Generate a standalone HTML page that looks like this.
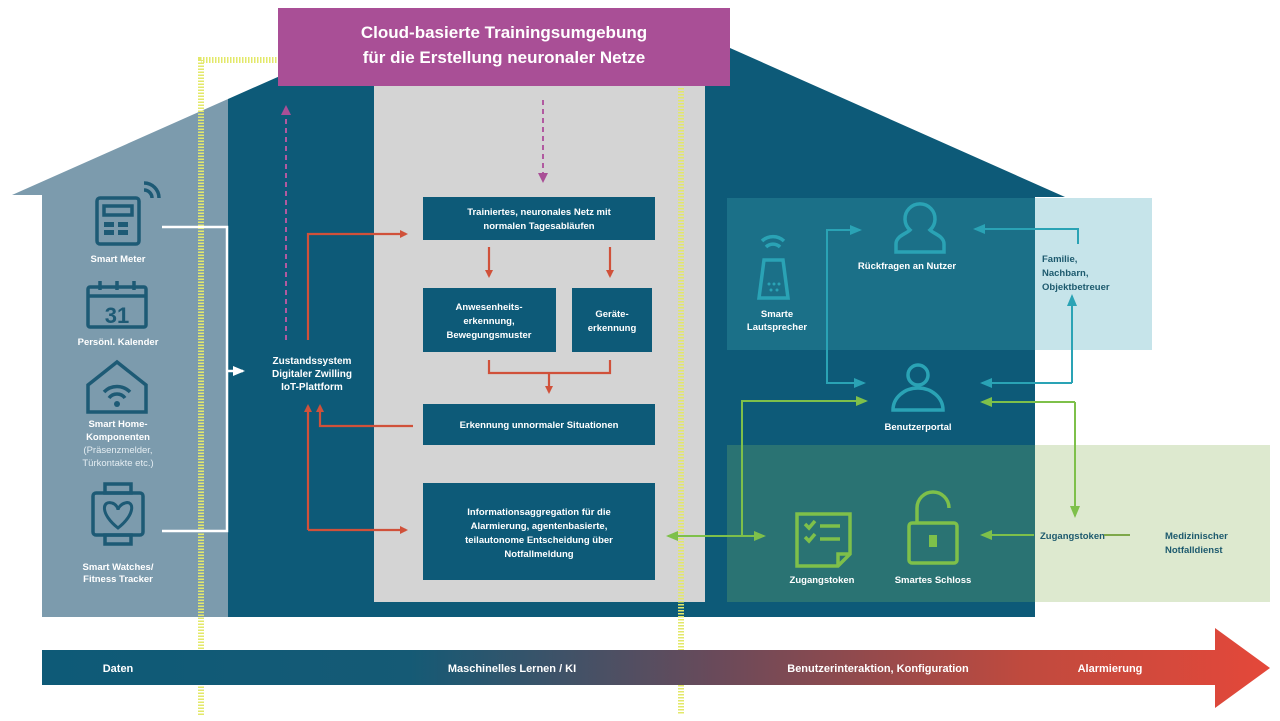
<!DOCTYPE html>
<html><head><meta charset="utf-8"><style>
html,body{margin:0;padding:0;background:#fff;}
svg{display:block;font-family:"Liberation Sans",sans-serif;font-weight:bold;}
</style></head><body>
<svg width="1280" height="721" viewBox="0 0 1280 721" xmlns="http://www.w3.org/2000/svg">
<defs>
<linearGradient id="g" x1="0" x2="1">
<stop offset="0" stop-color="#0e5a77"/><stop offset="0.3" stop-color="#155a75"/>
<stop offset="0.55" stop-color="#6a4a5a"/><stop offset="0.8" stop-color="#c04a3e"/><stop offset="1" stop-color="#e4483a"/>
</linearGradient>
<marker id="ar" markerWidth="8" markerHeight="8" refX="6" refY="4" orient="auto" markerUnits="userSpaceOnUse"><path d="M0,0 L8,4 L0,8z" fill="#d0513a"/></marker>
<marker id="am" markerWidth="10" markerHeight="10" refX="7" refY="5" orient="auto" markerUnits="userSpaceOnUse"><path d="M0,0 L10,5 L0,10z" fill="#a94f96"/></marker>
<marker id="at" markerWidth="12" markerHeight="10" refX="10" refY="5" orient="auto" markerUnits="userSpaceOnUse"><path d="M0,0 L12,5 L0,10z" fill="#2aa3b5"/></marker>
<marker id="ag" markerWidth="12" markerHeight="10" refX="10" refY="5" orient="auto" markerUnits="userSpaceOnUse"><path d="M0,0 L12,5 L0,10z" fill="#7ec04a"/></marker>
<marker id="aw" markerWidth="12" markerHeight="10" refX="10" refY="5" orient="auto" markerUnits="userSpaceOnUse"><path d="M0,0 L12,5 L0,10z" fill="#fff"/></marker>
</defs>
<!-- left light part -->
<polygon points="12,195 228,99 228,617 42,617 42,195" fill="#7c9bad"/>
<!-- dark body -->
<polygon points="228,99 280,76 730,48 1065,197 1035,197 1035,617 228,617" fill="#0d5a78"/>
<!-- gray panel -->
<rect x="374" y="86" width="331" height="516" fill="#d4d4d4"/>
<!-- right panels -->
<rect x="727" y="198" width="308" height="152" fill="#1b7088"/>
<rect x="1035" y="198" width="117" height="152" fill="#c6e4ea"/>
<rect x="727" y="445" width="308" height="157" fill="#2a7373"/>
<rect x="1035" y="445" width="235" height="157" fill="#dde9cf"/>
<!-- magenta -->
<rect x="278" y="8" width="452" height="78" fill="#a94f96"/>
<text x="504" y="38" fill="#fff" font-size="17" text-anchor="middle">Cloud-basierte Trainingsumgebung</text>
<text x="504" y="63" fill="#fff" font-size="17" text-anchor="middle">für die Erstellung neuronaler Netze</text>
<!-- yellow dotted -->
<g stroke="#e3e86a" stroke-width="6" stroke-dasharray="1.5 1.5" fill="none">
<path d="M201,715 V60 H278"/><path d="M681,88 V715"/>
</g>
<!-- bottom arrow -->
<polygon points="42,650 1215,650 1215,628 1270,668 1215,708 1215,685 42,685" fill="url(#g)"/>
<g fill="#fff" font-size="11" text-anchor="middle">
<text x="118" y="672">Daten</text><text x="512" y="672">Maschinelles Lernen / KI</text>
<text x="878" y="672">Benutzerinteraktion, Konfiguration</text><text x="1110" y="672">Alarmierung</text>
</g>
<!-- left icons -->
<g stroke="#1d5a75" stroke-width="3.5" fill="none">
<rect x="97" y="198" width="42" height="46" rx="3"/><rect x="104" y="206" width="28" height="9"/>
<path d="M144,190 a8,8 0 0 1 8,8 M144,183 a15,15 0 0 1 15,15"/>
<rect x="88" y="287" width="58" height="40" rx="2"/><path d="M88,296 H146 M100,281 v9 M117,281 v9 M134,281 v9"/>
<path d="M88,412 V385 L117,362 L146,385 V412 Z"/>
<path d="M104,392 a18,18 0 0 1 26,0 M109,398 a10,10 0 0 1 16,0"/>
<rect x="93" y="493" width="50" height="42" rx="3"/><rect x="105" y="484" width="26" height="9"/><rect x="105" y="535" width="26" height="9"/>
</g>
<g fill="#1d5a75"><rect x="104" y="222" width="10" height="5"/><rect x="118" y="222" width="10" height="5"/><rect x="104" y="230" width="10" height="5"/><rect x="118" y="230" width="10" height="5"/><circle cx="117" cy="404" r="3"/></g>
<text x="117" y="323" fill="#1d5a75" font-size="22" text-anchor="middle">31</text>
<path d="M118,528 C100,514 102,500 112,503 C116,504 118,508 118,510 C118,508 121,504 125,503 C134,500 136,514 118,528Z" fill="none" stroke="#1d5a75" stroke-width="3"/>
<g fill="#fff" font-size="9.5" text-anchor="middle">
<text x="118" y="262">Smart Meter</text><text x="118" y="345">Persönl. Kalender</text>
<text x="118" y="427">Smart Home-</text><text x="118" y="440">Komponenten</text>
<text x="118" y="453" font-weight="normal" fill="#e4edf2">(Präsenzmelder,</text><text x="118" y="466" font-weight="normal" fill="#e4edf2">Türkontakte etc.)</text>
<text x="118" y="570">Smart Watches/</text><text x="118" y="582">Fitness Tracker</text>
</g>
<!-- white connectors -->
<g stroke="#fff" stroke-width="2.5" fill="none">
<path d="M162,227 H227 V531 H162"/><path d="M227,371 H243" marker-end="url(#aw)"/>
</g>
<g fill="#fff" font-size="10" text-anchor="middle">
<text x="312" y="364">Zustandssystem</text><text x="312" y="377">Digitaler Zwilling</text><text x="312" y="390">IoT-Plattform</text>
</g>
<!-- magenta dashed -->
<g stroke="#b15aa0" stroke-width="2" stroke-dasharray="5 4" fill="none">
<path d="M286,340 V108" marker-end="url(#am)"/><path d="M543,100 V180" marker-end="url(#am)"/>
</g>
<!-- nodes -->
<g fill="#0d5a78">
<rect x="423" y="197" width="232" height="43"/><rect x="423" y="288" width="133" height="64"/><rect x="572" y="288" width="80" height="64"/>
<rect x="423" y="404" width="232" height="41"/><rect x="423" y="483" width="232" height="97"/>
</g>
<g fill="#fff" font-size="9.5" text-anchor="middle">
<text x="539" y="215">Trainiertes, neuronales Netz mit</text><text x="539" y="229">normalen Tagesabläufen</text>
<text x="489" y="310">Anwesenheits-</text><text x="489" y="324">erkennung,</text><text x="489" y="338">Bewegungsmuster</text>
<text x="612" y="317">Geräte-</text><text x="612" y="331">erkennung</text>
<text x="539" y="428">Erkennung unnormaler Situationen</text>
<text x="539" y="515">Informationsaggregation für die</text><text x="539" y="529">Alarmierung, agentenbasierte,</text>
<text x="539" y="543">teilautonome Entscheidung über</text><text x="539" y="557">Notfallmeldung</text>
</g>
<!-- red connectors -->
<g stroke="#d0513a" stroke-width="2.2" fill="none">
<path d="M308,340 V234 H406" marker-end="url(#ar)"/>
<path d="M489,247 V276" marker-end="url(#ar)"/><path d="M610,247 V276" marker-end="url(#ar)"/>
<path d="M489,360 V373 H610 V360 M549,373 V392" marker-end="url(#ar)"/>
<path d="M413,426 H320 V406" marker-end="url(#ar)"/>
<path d="M308,530 V406" marker-end="url(#ar)"/><path d="M308,530 H406" marker-end="url(#ar)"/>
</g>
<!-- right icons -->
<g stroke="#2aa3b5" stroke-width="3.5" fill="none">
<path d="M896,252 v-8 c0,-8 10,-10 14,-14 a15,15 0 1 1 20,0 c4,4 14,6 14,14 v8 z"/>
<circle cx="918" cy="375" r="10"/><path d="M893,410 a25,22 0 0 1 50,0 z"/>
<path d="M764,260 H783 L788,298 H759 Z"/>
<path d="M766,247 a10,10 0 0 1 14,0 M762,241 a16,16 0 0 1 22,0"/>
</g>
<g fill="#2aa3b5"><circle cx="769" cy="284" r="1.5"/><circle cx="774" cy="284" r="1.5"/><circle cx="779" cy="284" r="1.5"/><circle cx="771" cy="290" r="1.5"/><circle cx="777" cy="290" r="1.5"/></g>
<g stroke="#7ec04a" stroke-width="3.5" fill="none">
<path d="M797,514 H850 V554 L838,566 H797 Z M838,566 V554 H850"/>
<path d="M805,524 l4,4 l6,-7 M805,537 l4,4 l6,-7 M820,526 H840 M820,539 H840"/>
<rect x="909" y="523" width="48" height="40" rx="3"/><path d="M917,523 V508 a16,16 0 0 1 32,0"/>
</g>
<rect x="929" y="535" width="8" height="12" fill="#7ec04a"/>
<g fill="#fff" font-size="9.5" text-anchor="middle">
<text x="777" y="317">Smarte</text><text x="777" y="330">Lautsprecher</text>
<text x="907" y="269">Rückfragen an Nutzer</text><text x="918" y="430">Benutzerportal</text>
<text x="822" y="583">Zugangstoken</text><text x="933" y="583">Smartes Schloss</text>
</g>
<g fill="#1d5a6e" font-size="9.5">
<text x="1042" y="262">Familie,</text><text x="1042" y="276">Nachbarn,</text><text x="1042" y="290">Objektbetreuer</text>
<text x="1040" y="539">Zugangstoken</text><text x="1165" y="539">Medizinischer</text><text x="1165" y="553">Notfalldienst</text>
</g>
<path d="M1104,535 H1130" stroke="#7ea84a" stroke-width="2"/>
<!-- teal connectors -->
<g stroke="#2aa3b5" stroke-width="2" fill="none">
<path d="M860,230 H827 V383 H864" marker-end="url(#at)"/><path d="M827,230 H860" marker-end="url(#at)"/>
<path d="M1078,244 V229 H975" marker-end="url(#at)"/>
<path d="M1072,383 V296" marker-end="url(#at)"/><path d="M1072,383 H982" marker-end="url(#at)"/>
</g>
<!-- green connectors -->
<g stroke="#7ec04a" stroke-width="2" fill="none">
<path d="M668,536 H764" marker-end="url(#ag)"/><path d="M764,536 H668" marker-end="url(#ag)"/>
<path d="M742,536 V401 H866" marker-end="url(#ag)"/>
<path d="M1075,402 V516" marker-end="url(#ag)"/><path d="M1075,402 H982" marker-end="url(#ag)"/>
<path d="M1034,535 H982" marker-end="url(#ag)"/>
</g>
</svg>
</body></html>
